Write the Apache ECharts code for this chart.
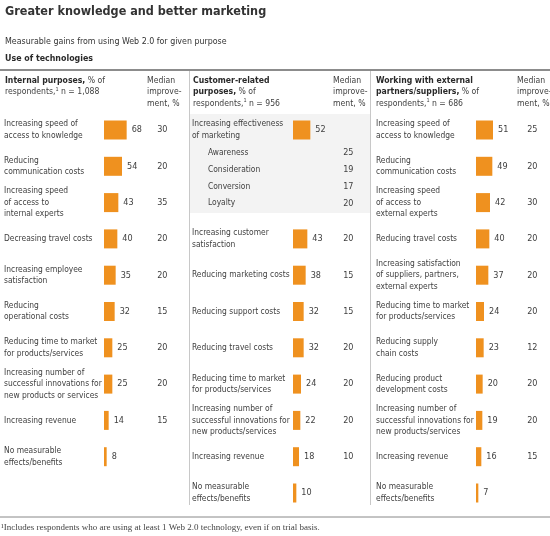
<!DOCTYPE html>
<html>
<head>
<meta charset="utf-8">
<script src="https://cdn.jsdelivr.net/npm/echarts@6/dist/echarts.min.js"></script>
<style>
html,body{margin:0;padding:0;background:#fff;}
#c{width:550px;height:536px;}
</style>
</head>
<body>
<div id="c"></div>
<script>
// ---- data ----
var col1Labels = ['Increasing speed of\naccess to knowledge', 'Reducing\ncommunication costs', 'Increasing speed\nof access to\ninternal experts', 'Decreasing travel costs', 'Increasing employee\nsatisfaction', 'Reducing\noperational costs', 'Reducing time to market\nfor products/services', 'Increasing number of\nsuccessful innovations for\nnew products or services', 'Increasing revenue', 'No measurable\neffects/benefits'];
var col1Values = [68, 54, 43, 40, 35, 32, 25, 25, 14, 8];
var col1Medians = [30, 20, 35, 20, 20, 15, 20, 20, 15, null];

var col2Labels = ['Increasing effectiveness\nof marketing', ' ', '  ', 'Increasing customer\nsatisfaction', 'Reducing marketing costs', 'Reducing support costs', 'Reducing travel costs', 'Reducing time to market\nfor products/services', 'Increasing number of\nsuccessful innovations for\nnew products/services', 'Increasing revenue', 'No measurable\neffects/benefits'];
var col2Values = [52, null, null, 43, 38, 32, 32, 24, 22, 18, 10];
var col2Medians = [null, null, null, 20, 15, 15, 20, 20, 20, 10, null];
var col2SubLabels = ['Awareness', 'Consideration', 'Conversion', 'Loyalty'];
var col2SubMedians = [25, 19, 17, 20];

var col3Labels = ['Increasing speed of\naccess to knowledge', 'Reducing\ncommunication costs', 'Increasing speed\nof access to\nexternal experts', 'Reducing travel costs', 'Increasing satisfaction\nof suppliers, partners,\nexternal experts', 'Reducing time to market\nfor products/services', 'Reducing supply\nchain costs', 'Reducing product\ndevelopment costs', 'Increasing number of\nsuccessful innovations for\nnew products/services', 'Increasing revenue', 'No measurable\neffects/benefits'];
var col3Values = [51, 49, 42, 40, 37, 24, 23, 20, 19, 16, 7];
var col3Medians = [25, 20, 30, 20, 20, 20, 12, 20, 20, 15, null];

var headers = [
  '{b|Internal purposes,} % of\nrespondents,{s|1} n = 1,088',
  '{b|Customer-related}\n{b|purposes,} % of\nrespondents,{s|1} n = 956',
  '{b|Working with external}\n{b|partners/suppliers,} % of\nrespondents,{s|1} n = 686'
];
var medianHeader = 'Median\nimprove-\nment, %';

// ---- style ----
var FONT = "'DejaVu Sans Condensed','Liberation Sans',sans-serif";
var TXT = '#404040';
var ORANGE = '#EF911F';
var FS = 8.4;
var NFS = 9;
var LH = 11.5;
var ROW = 36.3;
var TOP = 130 - ROW / 2;

function medStr(arr) { return arr.map(function (v) { return v == null ? '' : String(v); }); }

function makeGrid(left, top, n, step) {
  return { left: left, top: top, width: 100 / 3, height: n * step };
}
function xAx(gi) {
  return { gridIndex: gi, type: 'value', min: 0, max: 100, show: false };
}
function yLeft(gi, data, margin) {
  return {
    gridIndex: gi, type: 'category', data: data, inverse: true, position: 'left',
    axisLine: { show: false }, axisTick: { show: false }, splitLine: { show: false },
    axisLabel: { align: 'left', margin: margin, fontFamily: FONT, fontSize: FS, lineHeight: LH, color: TXT, interval: 0 }
  };
}
function yRight(gi, data, margin) {
  return {
    gridIndex: gi, type: 'category', data: data, inverse: true, position: 'right',
    axisLine: { show: false }, axisTick: { show: false }, splitLine: { show: false },
    axisLabel: { align: 'center', margin: margin, fontFamily: FONT, fontSize: NFS, color: TXT, interval: 0 }
  };
}
function barSeries(xi, yi, data) {
  return {
    type: 'bar', xAxisIndex: xi, yAxisIndex: yi, data: data, barWidth: 19,
    itemStyle: { color: ORANGE }, silent: true, animation: false,
    label: { show: true, position: 'right', distance: 5, fontFamily: FONT, fontSize: NFS, color: TXT }
  };
}

var rich = {
  b: { fontFamily: FONT, fontSize: 8.6, fontWeight: 'bold', color: '#2a2a2a', lineHeight: LH },
  s: { fontFamily: FONT, fontSize: 5.5, color: TXT, verticalAlign: 'top', lineHeight: LH }
};
function headTitle(text, left) {
  return {
    text: text, left: left, top: 75, padding: 0,
    textStyle: { fontFamily: FONT, fontSize: 8.6, fontWeight: 'normal', color: TXT, lineHeight: LH, rich: rich }
  };
}

var option = {
  backgroundColor: '#fff',
  animation: false,
  title: [
    { text: 'Greater knowledge and better marketing', left: 5, top: 5, padding: 0,
      textStyle: { fontFamily: FONT, fontSize: 12.5, fontWeight: 'bold', color: '#333' } },
    { text: 'Measurable gains from using Web 2.0 for given purpose', left: 5, top: 37, padding: 0,
      textStyle: { fontFamily: FONT, fontSize: 8.8, fontWeight: 'normal', color: '#333' } },
    { text: 'Use of technologies', left: 5, top: 54, padding: 0,
      textStyle: { fontFamily: FONT, fontSize: 8.8, fontWeight: 'bold', color: '#2a2a2a' } },
    headTitle(headers[0], 5),
    headTitle(medianHeader, 147),
    headTitle(headers[1], 193),
    headTitle(medianHeader, 333),
    headTitle(headers[2], 376),
    headTitle(medianHeader, 517),
    { text: '\u00b9Includes respondents who are using at least 1 Web 2.0 technology, even if on trial basis.', left: 1, top: 523, padding: 0,
      textStyle: { fontFamily: "'Liberation Serif','DejaVu Serif',serif", fontSize: 9, fontWeight: 'normal', color: '#444' } }
  ],
  graphic: [
    { type: 'rect', z: -10, shape: { x: 190, y: 114, width: 180, height: 99 }, style: { fill: '#f3f3f3' } },
    { type: 'line', shape: { x1: 0, y1: 70, x2: 550, y2: 70 }, style: { stroke: '#666', lineWidth: 1.5 } },
    { type: 'line', shape: { x1: 189.5, y1: 71, x2: 189.5, y2: 505 }, style: { stroke: '#c8c8c8', lineWidth: 1 } },
    { type: 'line', shape: { x1: 370.5, y1: 71, x2: 370.5, y2: 505 }, style: { stroke: '#c8c8c8', lineWidth: 1 } },
    { type: 'line', shape: { x1: 0, y1: 517, x2: 550, y2: 517 }, style: { stroke: '#888', lineWidth: 1 } }
  ],
  grid: [
    makeGrid(104, TOP, col1Labels.length, ROW),
    makeGrid(293, TOP, col2Labels.length, ROW),
    makeGrid(293, 144.5, col2SubLabels.length, 16.8),
    makeGrid(476, TOP, col3Labels.length, ROW)
  ],
  xAxis: [xAx(0), xAx(1), xAx(2), xAx(3)],
  yAxis: [
    yLeft(0, col1Labels, 100), yRight(0, medStr(col1Medians), 25),
    yLeft(1, col2Labels, 101), yRight(1, medStr(col2Medians), 22),
    yLeft(2, col2SubLabels, 85), yRight(2, medStr(col2SubMedians), 22),
    yLeft(3, col3Labels, 100), yRight(3, medStr(col3Medians), 23)
  ],
  series: [
    barSeries(0, 0, col1Values),
    barSeries(1, 2, col2Values),
    barSeries(2, 4, col2SubLabels.map(function () { return null; })),
    barSeries(3, 6, col3Values)
  ]
};

var chart = echarts.init(document.getElementById('c'), null, { renderer: 'canvas' });
chart.setOption(option);
</script>
</body>
</html>
